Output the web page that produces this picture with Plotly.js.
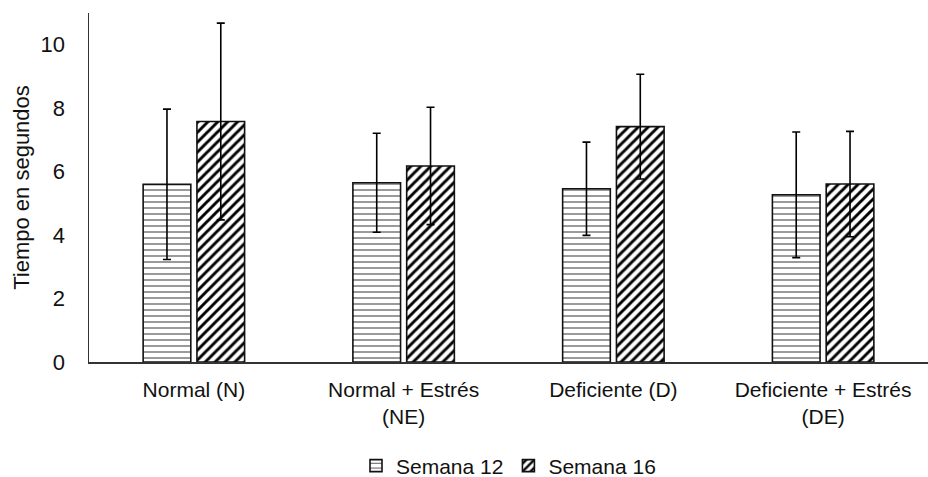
<!DOCTYPE html>
<html>
<head>
<meta charset="utf-8">
<script src="https://cdn.plot.ly/plotly-3.0.1.min.js"></script>
<style>html,body{margin:0;padding:0;background:#fff;}#chart{width:928px;height:477px;}</style>
</head>
<body>
<div id="chart"></div>
<script>
const categories = ["Normal (N)", "Normal + Estrés<br>(NE)", "Deficiente (D)", "Deficiente + Estrés<br>(DE)"];
const semana12 = [5.6, 5.65, 5.46, 5.27];
const semana12Err = [2.37, 1.56, 1.47, 1.98];
const semana16 = [7.58, 6.18, 7.42, 5.61];
const semana16Err = [3.1, 1.85, 1.65, 1.66];
const yTicks = [0, 2, 4, 6, 8, 10];

const errStyle = {type: 'data', visible: true, color: '#000', thickness: 1.6, width: 4};

const traces = [
  {
    type: 'bar', name: 'Semana 12', x: categories, y: semana12,
    error_y: Object.assign({array: semana12Err}, errStyle),
    marker: {color: '#fff', line: {color: '#111', width: 1.6},
      pattern: {shape: '-', fgcolor: '#555', bgcolor: '#fff', size: 6, solidity: 0.2}}
  },
  {
    type: 'bar', name: 'Semana 16', x: categories, y: semana16,
    error_y: Object.assign({array: semana16Err}, errStyle),
    marker: {color: '#fff', line: {color: '#111', width: 1.6},
      pattern: {shape: '/', fgcolor: '#000', bgcolor: '#fff', size: 7, solidity: 0.42}}
  }
];

const layout = {
  width: 928, height: 477,
  margin: {l: 89, r: 0, t: 13, b: 115, autoexpand: false},
  paper_bgcolor: '#fff', plot_bgcolor: '#fff',
  font: {family: 'Liberation Sans, Arial, sans-serif', size: 22, color: '#111'},
  barmode: 'group', bargap: 0.487, bargroupgap: 0.114,
  showlegend: true,
  legend: {orientation: 'h', x: 0.5, xanchor: 'center', y: -0.298, yanchor: 'middle',
    font: {size: 21}, itemwidth: 30, traceorder: 'normal'},
  xaxis: {showline: true, linecolor: '#333', linewidth: 1.5, ticks: '', showgrid: false,
    zeroline: false, tickfont: {size: 21}, ticklabelstandoff: 8, automargin: false},
  yaxis: {range: [0, 11], tickvals: yTicks, ticktext: yTicks.map(String), showline: true,
    linecolor: '#333', linewidth: 1.5, ticks: '', showgrid: false, zeroline: false,
    tickfont: {size: 22}, ticklabelstandoff: 18, automargin: false,
    title: {text: 'Tiempo en segundos', font: {size: 22}, standoff: 5}}
};

Plotly.newPlot('chart', traces, layout, {displayModeBar: false, staticPlot: true});
</script>
</body>
</html>
